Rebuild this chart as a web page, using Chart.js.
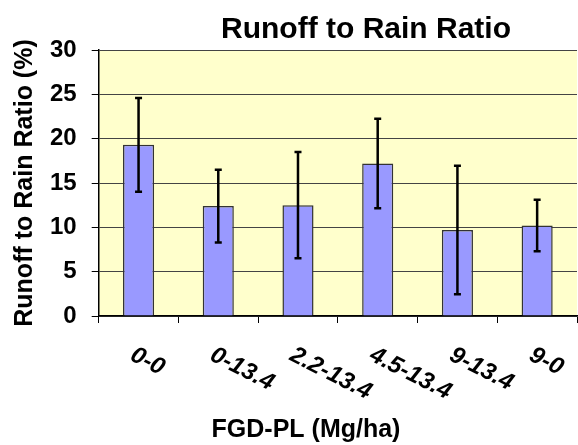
<!DOCTYPE html>
<html>
<head>
<meta charset="utf-8">
<script src="https://cdn.jsdelivr.net/npm/chart.js@4.4.1/dist/chart.umd.min.js"></script>
<style>
  html, body { margin: 0; padding: 0; background: #fff; }
  #wrap { width: 578px; height: 445px; }
</style>
</head>
<body>
<div id="wrap"><canvas id="myChart" width="578" height="445"></canvas></div>
<script>
const categories = ['0-0', '0-13.4', '2.2-13.4', '4.5-13.4', '9-13.4', '9-0'];
const ratioValues = [19.3, 12.4, 12.5, 17.2, 9.7, 10.2];
const ratioErrors = [5.3, 4.1, 6.0, 5.05, 7.25, 2.9];
const yTicks = [0, 5, 10, 15, 20, 25, 30];
const chartTitle = 'Runoff to Rain Ratio';
const xTitle = 'FGD-PL (Mg/ha)';

const FONT = '"Liberation Sans", Arial, sans-serif';

// yellow plot background
const plotBackground = {
    id: 'plotBackground',
    beforeDraw(chart) {
        const { ctx, chartArea } = chart;
        ctx.save();
        ctx.fillStyle = '#FFFFCC';
        ctx.fillRect(chartArea.left, chartArea.top, chartArea.right - chartArea.left, chartArea.bottom - chartArea.top);
        ctx.restore();
    }
};

// error bars from ratioErrors
const errorBars = {
    id: 'errorBars',
    afterDatasetsDraw(chart) {
        const { ctx } = chart;
        const yScale = chart.scales.y;
        const meta = chart.getDatasetMeta(0);
        ctx.save();
        ctx.strokeStyle = '#000';
        ctx.lineWidth = 2.5;
        meta.data.forEach((bar, i) => {
            const top = yScale.getPixelForValue(ratioValues[i] + ratioErrors[i]);
            const bottom = yScale.getPixelForValue(ratioValues[i] - ratioErrors[i]);
            ctx.beginPath();
            ctx.moveTo(bar.x, top);
            ctx.lineTo(bar.x, bottom);
            ctx.moveTo(bar.x - 3.5, top);
            ctx.lineTo(bar.x + 3.5, top);
            ctx.moveTo(bar.x - 3.5, bottom);
            ctx.lineTo(bar.x + 3.5, bottom);
            ctx.stroke();
        });
        ctx.restore();
    }
};

// slanted x labels, chart title and x title (placed like the original)
const textLayer = {
    id: 'textLayer',
    afterDraw(chart) {
        const { ctx, chartArea } = chart;
        const xScale = chart.scales.x;
        ctx.save();
        ctx.fillStyle = '#000';
        ctx.font = 'italic bold 24px ' + FONT;
        ctx.textAlign = 'left';
        ctx.textBaseline = 'top';
        categories.forEach((label, i) => {
            const x = xScale.getPixelForValue(i);
            ctx.save();
            ctx.translate(x - 1, chartArea.bottom + 27);
            ctx.rotate(27 * Math.PI / 180);
            ctx.fillText(label, 0, 0);
            ctx.restore();
        });

        ctx.textAlign = 'center';
        ctx.textBaseline = 'alphabetic';
        ctx.font = 'bold 30px ' + FONT;
        ctx.fillText(chartTitle, 366, 38);
        ctx.font = 'bold 25px ' + FONT;
        ctx.fillText(xTitle, 306, 437);
        ctx.restore();
    }
};

const ctx = document.getElementById('myChart');

const myChart = new Chart(ctx, {
    type: 'bar',
    data: {
        labels: categories,
        datasets: [{
            label: chartTitle,
            data: ratioValues,
            backgroundColor: '#9999FF',
            borderColor: '#333333',
            borderWidth: 1.5,
            categoryPercentage: 1,
            barPercentage: 0.39
        }]
    },
    options: {
        responsive: false,
        animation: false,
        layout: {
            padding: { left: 0, right: 1, top: 50, bottom: 122 }
        },
        plugins: {
            legend: { display: false },
            tooltip: { enabled: false },
            title: { display: false }
        },
        scales: {
            x: {
                grid: {
                    display: true,
                    drawOnChartArea: false,
                    drawTicks: true,
                    tickLength: 7,
                    color: '#000',
                    offset: true
                },
                border: { color: '#000', width: 1.5 },
                ticks: { display: false }
            },
            y: {
                min: 0,
                max: 30,
                afterBuildTicks(scale) {
                    scale.ticks = yTicks.map(v => ({ value: v }));
                },
                grid: {
                    color: '#444',
                    borderDash: [3, 2],
                    lineWidth: 1,
                    tickLength: 7,
                    tickColor: '#000',
                    tickBorderDash: []
                },
                border: { color: '#000', width: 1.5 },
                ticks: {
                    color: '#000',
                    padding: 15,
                    font: { family: FONT, size: 24, weight: 'bold' }
                },
                title: {
                    display: true,
                    text: 'Runoff to Rain Ratio (%)',
                    color: '#000',
                    font: { family: FONT, size: 25, weight: 'bold', lineHeight: 0.8 },
                    padding: { top: 15, bottom: 0 }
                }
            }
        }
    },
    plugins: [plotBackground, errorBars, textLayer]
});
</script>
</body>
</html>
